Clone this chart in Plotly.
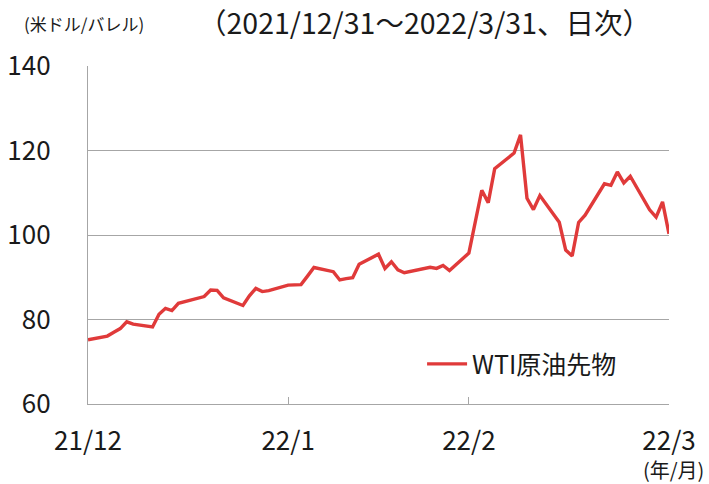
import plotly.graph_objects as go

dates = ["2021-12-31",
         "2022-01-03", "2022-01-04", "2022-01-05", "2022-01-06", "2022-01-07",
         "2022-01-10", "2022-01-11", "2022-01-12", "2022-01-13", "2022-01-14",
         "2022-01-18", "2022-01-19", "2022-01-20", "2022-01-21",
         "2022-01-24", "2022-01-25", "2022-01-26", "2022-01-27", "2022-01-28",
         "2022-01-31", "2022-02-01", "2022-02-02", "2022-02-03", "2022-02-04",
         "2022-02-07", "2022-02-08", "2022-02-09", "2022-02-10", "2022-02-11",
         "2022-02-14", "2022-02-15", "2022-02-16", "2022-02-17", "2022-02-18",
         "2022-02-22", "2022-02-23", "2022-02-24", "2022-02-25",
         "2022-02-28", "2022-03-01", "2022-03-02", "2022-03-03", "2022-03-04",
         "2022-03-07", "2022-03-08", "2022-03-09", "2022-03-10", "2022-03-11",
         "2022-03-14", "2022-03-15", "2022-03-16", "2022-03-17", "2022-03-18",
         "2022-03-21", "2022-03-22", "2022-03-23", "2022-03-24", "2022-03-25",
         "2022-03-28", "2022-03-29", "2022-03-30", "2022-03-31"]
wti = [75.21,
       76.08, 76.99, 77.85, 79.46, 78.90,
       78.23, 81.22, 82.64, 82.12, 83.82,
       85.43, 86.96, 86.90, 85.14,
       83.31, 85.60, 87.35, 86.61, 86.82,
       88.15, 88.20, 88.26, 90.27, 92.31,
       91.32, 89.36, 89.66, 89.88, 93.10,
       95.46, 92.07, 93.66, 91.76, 91.07,
       92.35, 92.10, 92.81, 91.59,
       95.72, 103.41, 110.60, 107.67, 115.68,
       119.40, 123.70, 108.70, 106.02, 109.33,
       103.01, 96.44, 95.04, 102.98, 104.70,
       112.12, 111.76, 114.93, 112.34, 113.90,
       105.96, 104.24, 107.82, 100.28]

tick_dates = ["2021-12-31", "2022-01-31", "2022-02-28", "2022-03-31"]
tick_labels = ["21/12", "22/1", "22/2", "22/3"]
y_ticks = [60, 80, 100, 120, 140]

FONT = "Noto Sans CJK JP"
GRID = "#a6a6a6"

fig = go.Figure()
fig.add_trace(go.Scatter(
    x=dates, y=wti, mode="lines", name="WTI原油先物",
    line=dict(color="#e03a3a", width=3.4),
))

fig.update_layout(
    width=709, height=484,
    margin=dict(l=88, r=40, t=66, b=80, autoexpand=False),
    paper_bgcolor="white", plot_bgcolor="white",
    font=dict(family=FONT, color="#1a1a1a"),
    showlegend=True,
    legend=dict(x=0.575, y=0.118, xanchor="left", yanchor="middle",
                font=dict(size=25, family=FONT), bgcolor="rgba(0,0,0,0)",
                itemwidth=40),
    xaxis=dict(
        type="date", range=["2021-12-31", "2022-03-31"],
        tickvals=tick_dates, ticktext=tick_labels,
        tickfont=dict(size=26, family=FONT),
        ticks="inside", ticklen=7, tickcolor=GRID, tickwidth=1.3,
        showgrid=False, showline=True, linecolor=GRID, linewidth=1.3,
        zeroline=False, ticklabelstandoff=14,
    ),
    yaxis=dict(
        range=[60, 140], tickvals=y_ticks,
        tickfont=dict(size=26, family=FONT),
        showgrid=True, gridcolor=GRID, gridwidth=1.3,
        showline=True, linecolor=GRID, linewidth=1.3,
        zeroline=False, ticks="outside", ticklen=31,
        tickcolor="rgba(0,0,0,0)",
    ),
    annotations=[
        dict(text="(米ドル/バレル)", xref="paper", yref="paper",
             x=-0.1136, y=1.127, xanchor="left", yanchor="middle",
             showarrow=False, font=dict(size=17, family=FONT)),
        dict(text="（2021/12/31～2022/3/31、日次）", xref="paper", yref="paper",
             x=0.58, y=1.132, xanchor="center", yanchor="middle",
             showarrow=False, font=dict(size=28.5, family=FONT)),
        dict(text="(年/月)", xref="paper", yref="paper",
             x=1.0637, y=-0.195, xanchor="right", yanchor="middle",
             showarrow=False, font=dict(size=20, family=FONT)),
    ],
)

fig.write_html("out.html", config={"displayModeBar": False},
               post_script="document.body.style.margin='0';")
